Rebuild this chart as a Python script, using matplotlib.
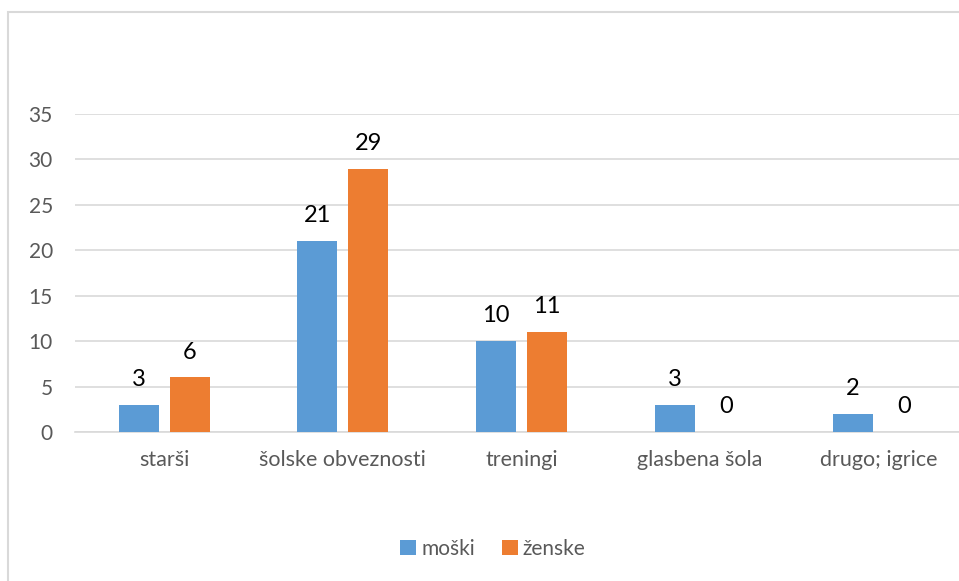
import matplotlib
matplotlib.use('Agg')
import matplotlib.pyplot as plt
from matplotlib.patches import Rectangle
import numpy as np

categories = ['starši', 'šolske obveznosti', 'treningi', 'glasbena šola', 'drugo; igrice']
moski = [3, 21, 10, 3, 2]
zenske = [6, 29, 11, 0, 0]
yticks = [0, 5, 10, 15, 20, 25, 30, 35]

plt.rcParams['font.family'] = ['Lato', 'DejaVu Sans']

W, H = 959, 581
fig = plt.figure(figsize=(W / 100, H / 100), dpi=100)
cat_w = 178.6
ax = fig.add_axes([75 / W, 1 - 432 / H, 5 * cat_w / W, 318 / H])

# outer chart border (right and bottom edges fall outside the image)
fig.patches.append(Rectangle((8 / W, -0.05), 1.0, 1 - 12 / H + 0.05,
                             transform=fig.transFigure, fill=False,
                             edgecolor='#d9d9d9', linewidth=1.5))

x = np.arange(len(categories))
w = 0.224
gap = 0.062
b1 = ax.bar(x - (w + gap) / 2, moski, w, color='#5b9bd5', label='moški', zorder=3)
b2 = ax.bar(x + (w + gap) / 2, zenske, w, color='#ed7d31', label='ženske', zorder=3)

for bars, vals in ((b1, moski), (b2, zenske)):
    for r, v in zip(bars, vals):
        ax.annotate(str(v), (r.get_x() + r.get_width() / 2, v), xytext=(0, 13.5),
                    textcoords='offset points', ha='center', va='baseline',
                    fontsize=17, color='black')

ax.set_xlim(-0.5, len(categories) - 0.5)
ax.set_ylim(0, 35)
ax.set_yticks(yticks)
ax.set_xticks(x)
ax.set_xticklabels(categories, fontsize=15.5, color='#595959')
ax.tick_params(axis='y', labelsize=15, labelcolor='#595959', length=0, pad=16)
ax.tick_params(axis='x', length=0, pad=13)
ax.grid(axis='y', color='#d9d9d9', linewidth=1.2, zorder=0)
for s in ['top', 'right', 'left']:
    ax.spines[s].set_visible(False)
ax.spines['bottom'].set_color('#d9d9d9')
ax.spines['bottom'].set_linewidth(1.2)

fig.legend(loc='center', bbox_to_anchor=(493 / W, 1 - 549 / H), ncol=2, frameon=False,
           fontsize=15, handlelength=0.75, handleheight=0.75, handletextpad=0.25,
           columnspacing=1.3, labelcolor='#595959')

fig.savefig('out.png', dpi=100)
